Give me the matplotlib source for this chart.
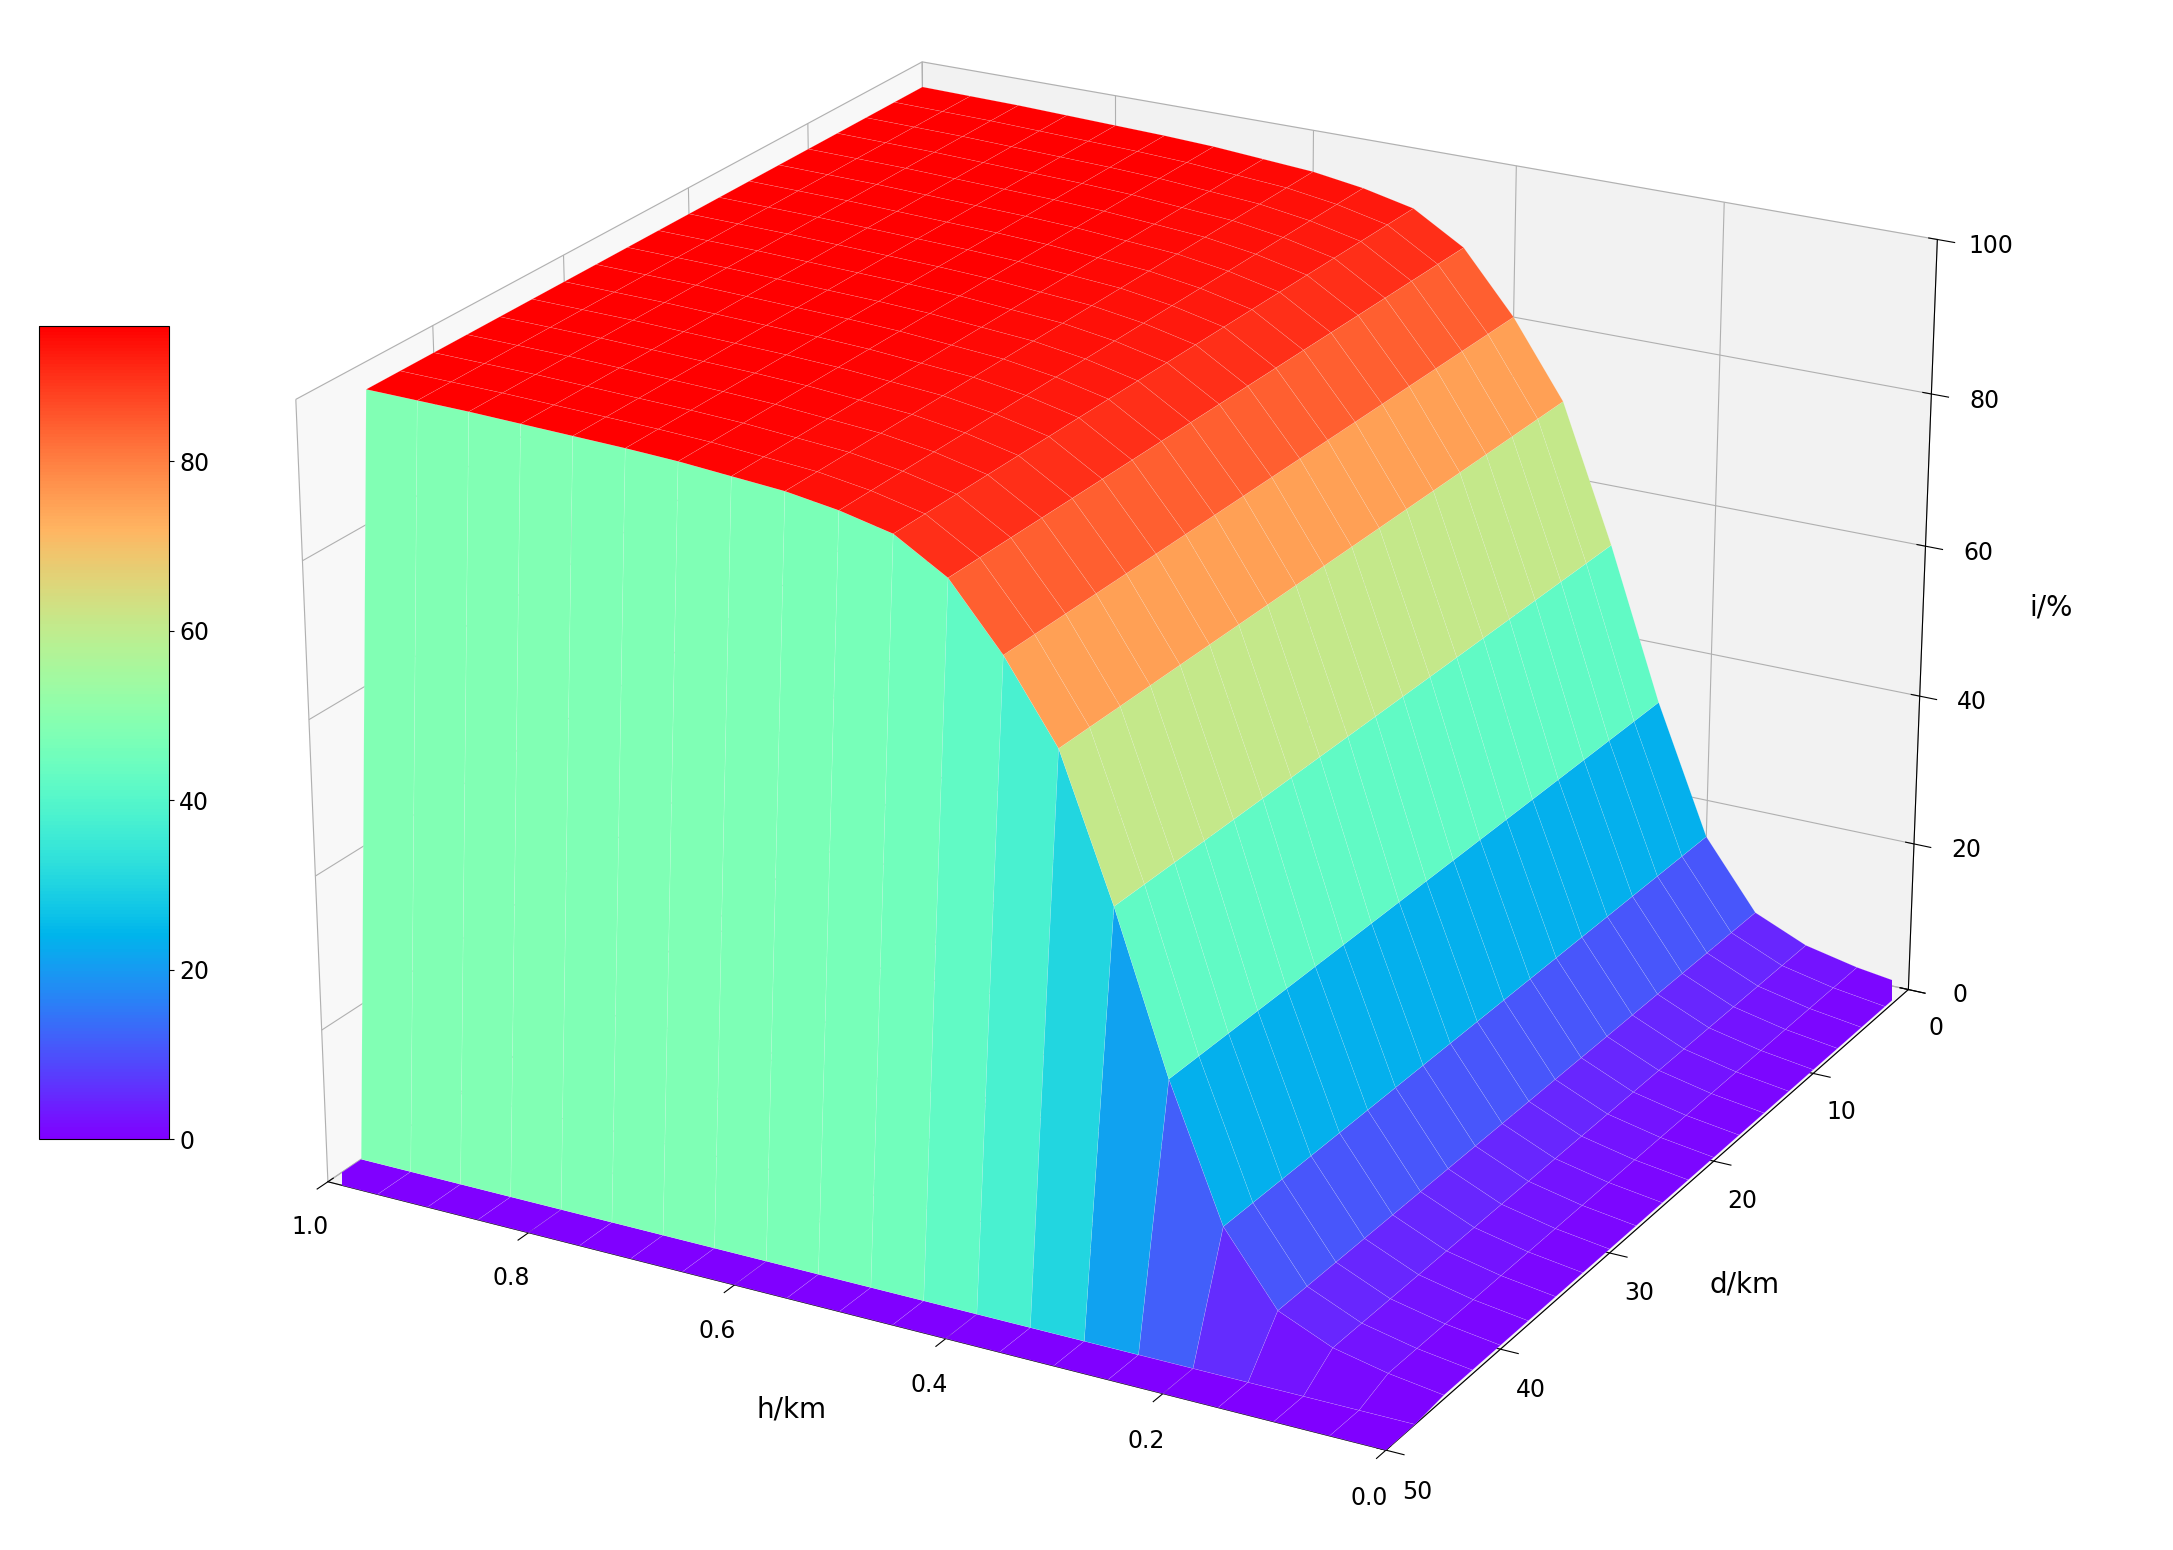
import numpy as np
import matplotlib
matplotlib.use("Agg")
import matplotlib.pyplot as plt

h_vals = np.linspace(0, 1, 21)
d_vals = np.linspace(0, 50, 21)
# i/% profile along h (for interior d rows)
i_profile = [0.5, 1.5, 3, 6, 15, 32, 52, 70, 80, 88, 92, 93.5, 94.5, 95, 95.5, 95.8, 96, 96.2, 96.4, 96.5, 96.6]

H, D = np.meshgrid(h_vals, d_vals)
Z = np.tile(np.array(i_profile), (len(d_vals), 1))
Z[-1, :] = 0.0
Z[-2, :] = 0.0

fig = plt.figure(figsize=(21.73, 15.5), dpi=100)
ax = fig.add_axes([0.054, 0.03, 0.92, 1.0], projection='3d')
ax.set_box_aspect((4, 4, 2.8), zoom=1.17)
surf = ax.plot_surface(H, D, Z, cmap='rainbow', vmin=0, vmax=96, linewidth=0.3,
                       edgecolor=(1, 1, 1, 0.25), antialiased=True, rstride=1, cstride=1)
ax.set_xlim(0, 1)
ax.set_ylim(0, 50)
ax.set_zlim(0, 100)
ax.view_init(elev=22.5, azim=119)
ax.set_xticks([0.0, 0.2, 0.4, 0.6, 0.8, 1.0])
ax.set_yticks([0, 10, 20, 30, 40, 50])
ax.set_zticks([0, 20, 40, 60, 80, 100])
ax.tick_params(labelsize=17)
ax.tick_params(axis='x', pad=8)
ax.tick_params(axis='y', pad=8)
ax.tick_params(axis='z', pad=12)
ax.set_xlabel('h/km', fontsize=20, labelpad=24)
ax.set_ylabel('d/km', fontsize=20, labelpad=24)
ax.set_zlabel('i/%', fontsize=20, labelpad=28)

cax = fig.add_axes([0.018, 0.265, 0.06, 0.525])
cb = fig.colorbar(surf, cax=cax)
cb.set_ticks([0, 20, 40, 60, 80])
cb.ax.tick_params(labelsize=17)
fig.savefig('out.png', dpi=100)
